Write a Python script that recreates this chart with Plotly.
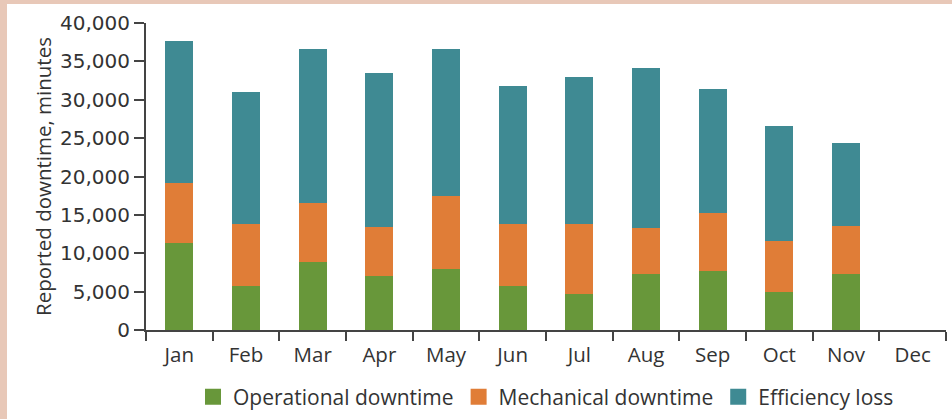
import plotly.graph_objects as go

months = ["Jan", "Feb", "Mar", "Apr", "May", "Jun", "Jul", "Aug", "Sep", "Oct", "Nov", "Dec"]
operational = [11400, 5700, 8900, 7000, 7900, 5700, 4750, 7350, 7750, 4900, 7350, None]
mechanical = [7700, 8050, 7700, 6400, 9500, 8050, 9100, 6000, 7550, 6650, 6250, None]
efficiency = [18600, 17200, 19950, 20050, 19150, 18100, 19150, 20850, 16150, 15000, 10800, None]
y_ticks = [0, 5000, 10000, 15000, 20000, 25000, 30000, 35000, 40000]

series_names = ["Operational downtime", "Mechanical downtime", "Efficiency loss"]
colors = ["#68973A", "#E07D37", "#3F8A93"]

W, H = 952, 419
ML, MR, MT, MB = 146, 6, 23, 89
PW, PH = W - ML - MR, H - MT - MB

fig = go.Figure()
for name, vals, col in zip(series_names, [operational, mechanical, efficiency], colors):
    fig.add_trace(go.Bar(x=months, y=vals, name=name, showlegend=False,
                         marker=dict(color=col, line=dict(width=0))))
# legend entries with larger square swatches
for name, col in zip(series_names, colors):
    fig.add_trace(go.Scatter(x=[None], y=[None], mode="markers", name=name,
                             marker=dict(symbol="square", size=16, color=col, line=dict(width=0))))

txt = "#333333"
text_font = "Open Sans, Noto Sans, sans-serif"
num_font = "DejaVu Sans, sans-serif"

def px_x(p):
    return (p - ML) / PW

def px_y(p):
    return (MT + PH - p) / PH

fig.update_layout(
    width=W, height=H,
    margin=dict(l=ML, r=MR, t=MT, b=MB, autoexpand=False),
    barmode="stack",
    bargap=0.58,
    paper_bgcolor="white",
    plot_bgcolor="white",
    font=dict(family=text_font, size=20, color=txt),
    showlegend=True,
    legend=dict(orientation="h", x=0.5, xanchor="center", y=px_y(397), yanchor="middle",
                font=dict(family=text_font, size=21, color=txt), traceorder="normal",
                itemclick=False, itemsizing="trace"),
    xaxis=dict(
        type="category", tickson="boundaries", ticks="outside", ticklen=9, tickwidth=1.5,
        tickcolor="#444444", showline=True, linecolor="#444444", linewidth=2,
        showgrid=False, zeroline=False, tickfont=dict(family=text_font, size=20.5, color=txt),
        ticklabelstandoff=5,
        range=[-0.5, 11.5],
    ),
    yaxis=dict(
        range=[0, 40000], tickvals=y_ticks,
        tickformat=",d", ticks="outside", ticklen=10, tickwidth=1.5, tickcolor="#444444",
        showline=True, linecolor="#444444", linewidth=2, showgrid=False, zeroline=False,
        tickfont=dict(family=num_font, size=20, color=txt),
        title=dict(text="Reported downtime, minutes", font=dict(family=text_font, size=20.5, color=txt),
                   standoff=3),
    ),
    shapes=[
        dict(type="rect", xref="paper", yref="paper", x0=px_x(0), x1=px_x(7), y0=px_y(H), y1=px_y(0),
             fillcolor="#E8C8B8", line=dict(width=0), layer="below"),
        dict(type="rect", xref="paper", yref="paper", x0=px_x(0), x1=px_x(W), y0=px_y(4), y1=px_y(0),
             fillcolor="#E8C8B8", line=dict(width=0), layer="below"),
    ],
)

fig.write_html("out.html", config={"displayModeBar": False},
               post_script="document.body.style.margin='0';document.body.style.overflow='hidden';")
